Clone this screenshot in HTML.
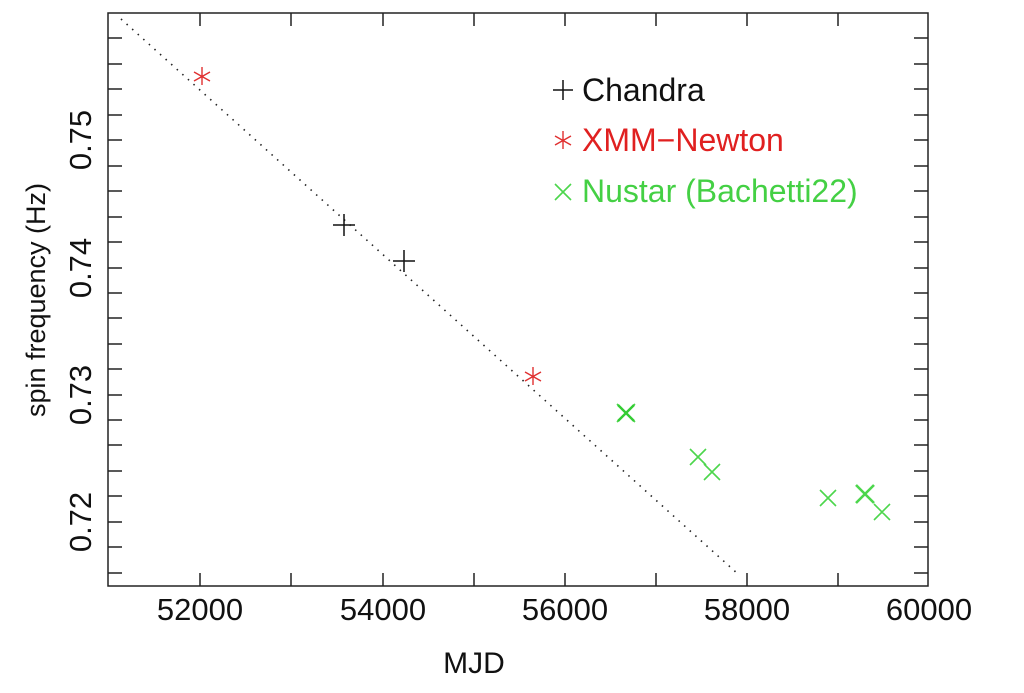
<!DOCTYPE html>
<html><head><meta charset="utf-8"><style>
body{margin:0;background:#fff}
svg text{font-family:"Liberation Sans",sans-serif}
</style></head><body>
<svg width="1024" height="688" viewBox="0 0 1024 688" xmlns="http://www.w3.org/2000/svg">
<rect width="1024" height="688" fill="#fff"/>
<g stroke="#222" stroke-width="1.5" fill="none">
<rect x="108" y="13" width="820" height="573"/>
<path d="M200,586v-13M291,586v-13M383,586v-13M474,586v-13M565,586v-13M656,586v-13M747,586v-13M838,586v-13
M200,13v13M291,13v13M383,13v13M474,13v13M565,13v13M656,13v13M747,13v13M838,13v13"/>
<path d="M108,573h14M108,547h14M108,522h14M108,496h14M108,471h14M108,445h14M108,420h14M108,395h14M108,369h14M108,344h14M108,318h14M108,293h14M108,268h14M108,242h14M108,217h14M108,191h14M108,166h14M108,140h14M108,115h14M108,89h14M108,64h14M108,38h14
M928,573h-14M928,547h-14M928,522h-14M928,496h-14M928,471h-14M928,445h-14M928,420h-14M928,395h-14M928,369h-14M928,344h-14M928,318h-14M928,293h-14M928,268h-14M928,242h-14M928,217h-14M928,191h-14M928,166h-14M928,140h-14M928,115h-14M928,89h-14M928,64h-14M928,38h-14"/>
</g>
<line x1="121" y1="19" x2="738" y2="574" stroke="#222" stroke-width="1.6" stroke-dasharray="1.5 6"/>
<g font-size="31" fill="#111" text-anchor="middle">
<text x="200" y="620">52000</text><text x="383" y="620">54000</text><text x="565" y="620">56000</text><text x="747" y="620">58000</text><text x="929" y="620">60000</text>
<text x="474" y="673" font-size="30">MJD</text>
<text transform="translate(91,140) rotate(-90)">0.75</text>
<text transform="translate(91,268) rotate(-90)">0.74</text>
<text transform="translate(91,395) rotate(-90)">0.73</text>
<text transform="translate(91,522) rotate(-90)">0.72</text>
<text transform="translate(45,300) rotate(-90)" font-size="27">spin frequency (Hz)</text>
</g>
<g stroke="#111" stroke-width="1.5">
<path d="M333,225h22M344,214v22M393,261h22M404,250v22M553,90h20M563,80v20"/>
</g>
<g stroke="#e03030" stroke-width="1.4">
<path d="M202,67v18M194,72l16,9M194,81l16,-9M533,367v18M525,372l16,9M525,381l16,-9M563,131v18M555,136l16,9M555,145l16,-9"/>
</g>
<g stroke="#4cd64c" stroke-width="1.6">
<path d="M617,404l18,18M635,404l-18,18M690,449l16,16M706,449l-16,16M704,464l16,16M720,464l-16,16M820,490l16,16M836,490l-16,16M874,504l16,16M890,504l-16,16M555,184l16,16M571,184l-16,16"/>
<path d="M856,485l18,18M874,485l-18,18" stroke-width="2.6"/>
<path d="M618,405l16,16M634,405l-16,16" stroke-width="2.4" stroke="#33cc33"/>
</g>
<g font-size="32">
<text x="582" y="101" fill="#111">Chandra</text>
<text x="582" y="151" fill="#e02020">XMM−Newton</text>
<text x="582" y="202" fill="#44d044">Nustar (Bachetti22)</text>
</g>
</svg>
</body></html>
